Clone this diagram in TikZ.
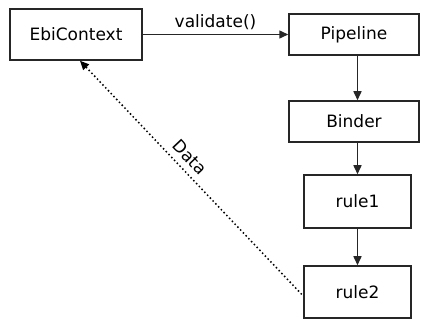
\documentclass[tikz,border=0pt]{standalone}
\usepackage{fontspec}
\setmainfont{DejaVu Sans}
\usetikzlibrary{arrows.meta}
\begin{document}
\begin{tikzpicture}[x=1pt,y=-1pt,
  box/.style={draw=black!85,line width=1.5pt,inner sep=0pt,font=\fontsize{17}{20}\selectfont},
  flow/.style={draw=black!85,line width=1.5pt,-{Triangle[length=9pt,width=8pt]}},
  back/.style={draw=black,line width=1.5pt,dash pattern=on 1.5pt off 2.5pt,{Triangle[length=9pt,width=8pt]}-},
  lbl/.style={font=\fontsize{17}{20}\selectfont}]
\useasboundingbox (0,0) rectangle (421,320);
\fill[white] (0,0) rectangle (421,320);
\node[box,minimum width=132pt,minimum height=51pt] (EbiContext) at (76,34.5) {EbiContext};
\node[box,minimum width=130pt,minimum height=41pt] (Pipeline) at (354,34.5) {Pipeline};
\node[box,minimum width=130pt,minimum height=41pt] (Binder) at (354,121.5) {Binder};
\node[box,minimum width=107pt,minimum height=53pt] (rule1) at (357.5,201.5) {rule1};
\node[box,minimum width=107pt,minimum height=52pt] (rule2) at (357.5,292) {rule2};
\draw[flow] (EbiContext) -- node[lbl,above=1pt] {validate()} (Pipeline);
\draw[flow] (rule1.north |- Pipeline.south) -- (rule1.north |- Binder.north);
\draw[flow] (rule1.north |- Binder.south) -- (rule1.north);
\draw[flow] (rule1) -- (rule2);
\draw[back] ([xshift=4pt]EbiContext.south) -- node[lbl,pos=0.45,sloped,above=3pt] {Data} ([yshift=-4pt]rule2.west);
\end{tikzpicture}
\end{document}
